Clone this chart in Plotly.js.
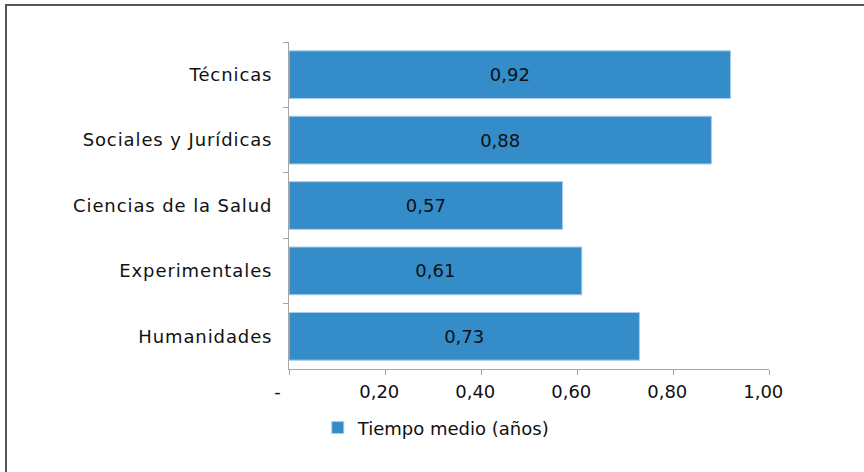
<!DOCTYPE html>
<html>
<head>
<meta charset="utf-8">
<script src="https://cdn.plot.ly/plotly-3.0.1.min.js"></script>
<style>
  html, body { margin: 0; padding: 0; background: #ffffff; }
  #wrap { position: relative; width: 864px; height: 472px; overflow: hidden; }
  #chart { position: absolute; left: 0; top: 0; width: 864px; height: 472px; }
  #frame { position: absolute; left: 5px; top: 4px; width: 900px; height: 500px;
           border-left: 2px solid #555555; border-top: 2px solid #555555; pointer-events: none; }
  #chart .ytick text { letter-spacing: 0.9px; }
</style>
</head>
<body>
<div id="wrap">
  <div id="chart"></div>
  <div id="frame"></div>
</div>
<script>
const categories = ["Técnicas", "Sociales y Jurídicas", "Ciencias de la Salud", "Experimentales", "Humanidades"];
const values = [0.92, 0.88, 0.57, 0.61, 0.73];
const seriesName = "Tiempo medio (años)";
const xTickVals = [0, 0.2, 0.4, 0.6, 0.8, 1.0];
const xTickText = ["-\u00a0\u00a0\u00a0\u00a0", "0,20\u00a0\u00a0", "0,40\u00a0\u00a0", "0,60\u00a0\u00a0", "0,80\u00a0\u00a0", "1,00\u00a0\u00a0"];

const font = { family: "DejaVu Sans, Liberation Sans, Arial, sans-serif", size: 18, color: "#111111" };

const trace = {
  type: "bar",
  orientation: "h",
  y: categories,
  x: values,
  name: seriesName,
  marker: { color: "#348cc8", line: { color: "#a9cde8", width: 1 } },
  texttemplate: "%{x:.2f}",
  textposition: "inside",
  insidetextanchor: "middle",
  textangle: 0,
  textfont: { family: font.family, size: 18, color: "#111111" },
  showlegend: true,
  hoverinfo: "skip"
};

const layout = {
  width: 864,
  height: 472,
  separators: ",.",
  paper_bgcolor: "#ffffff",
  plot_bgcolor: "#ffffff",
  font: font,
  margin: { l: 289, r: 95, t: 42, b: 103, pad: 0 },
  bargap: 0.27,
  showlegend: true,
  legend: {
    orientation: "h",
    x: 0.06, xanchor: "left",
    y: -0.18, yanchor: "middle",
    font: { family: font.family, size: 18, color: "#111111" },
    bgcolor: "rgba(0,0,0,0)"
  },
  xaxis: {
    range: [0, 1],
    tickmode: "array",
    tickvals: xTickVals,
    ticktext: xTickText,
    ticks: "outside",
    ticklen: 5,
    tickcolor: "#a6a6a6",
    showline: true,
    linecolor: "#a6a6a6",
    linewidth: 1,
    showgrid: false,
    zeroline: false,
    tickfont: { family: font.family, size: 18, color: "#111111" },
    ticklabelstandoff: 1,
    fixedrange: true
  },
  yaxis: {
    type: "category",
    autorange: "reversed",
    ticks: "outside",
    tickson: "boundaries",
    ticklen: 5,
    tickcolor: "#a6a6a6",
    showline: true,
    linecolor: "#a6a6a6",
    linewidth: 1,
    showgrid: false,
    zeroline: false,
    tickfont: { family: font.family, size: 18, color: "#111111" },
    ticklabelstandoff: 12,
    fixedrange: true
  }
};

Plotly.newPlot("chart", [trace], layout, { displayModeBar: false, staticPlot: true });
</script>
</body>
</html>
